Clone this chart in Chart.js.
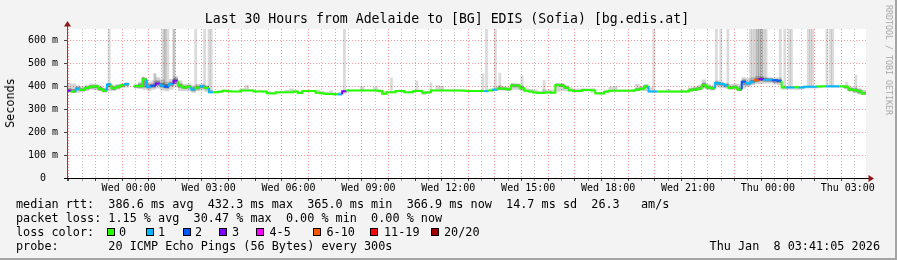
<!DOCTYPE html>
<html>
<head>
<meta charset="utf-8">
<script src="https://cdn.jsdelivr.net/npm/chart.js@4/dist/chart.umd.min.js"></script>
<style>
  html, body { margin: 0; padding: 0; background: #f3f3f3; }
  #frame { position: relative; width: 897px; height: 260px; overflow: hidden; background: #f3f3f3;
           font-family: "DejaVu Sans Mono", monospace; color: #000; }
  #frame canvas { position: absolute; left: 0; top: 0; }
  .txt { position: absolute; white-space: pre; }
  #title { left: 0; width: 894px; top: 11px; font-size: 13.2px; line-height: 16px; text-align: center; }
  #ylabel { left: 10px; top: 103px; font-size: 11.8px; line-height: 14px; transform: translate(-50%, -50%) rotate(-90deg); }
  #credit { left: 889px; top: 60px; font-size: 8.3px; line-height: 10px; color: #a8a8a8; transform: translate(-50%, -50%) rotate(90deg); }
  .row { left: 16px; font-size: 11.8px; line-height: 14px; }
  #stamp { right: 17px; top: 239px; font-size: 11.8px; line-height: 14px; }
  .box { position: absolute; width: 6px; height: 6px; border: 1px solid #000; top: 228px; }
  .edge { position: absolute; background: #a4a4a4; }
</style>
</head>
<body>
<div id="frame">
  <canvas id="chart" width="897" height="260" style="width:897px;height:260px"></canvas>
  <div class="txt" id="title">Last 30 Hours from Adelaide to [BG] EDIS (Sofia) [bg.edis.at]</div>
  <div class="txt" id="ylabel">Seconds</div>
  <div class="txt" id="credit">RRDTOOL / TOBI OETIKER</div>
  <div class="txt row" style="top:197px">median rtt:  386.6 ms avg  432.3 ms max  365.0 ms min  366.9 ms now  14.7 ms sd  26.3   am/s</div>
  <div class="txt row" style="top:211px">packet loss: 1.15 % avg  30.47 % max  0.00 % min  0.00 % now</div>
  <div class="txt row" style="top:225px">loss color:</div>
  <div class="txt row" style="top:239px">probe:       20 ICMP Echo Pings (56 Bytes) every 300s</div>
  <div class="txt" id="stamp">Thu Jan  8 03:41:05 2026</div>
  <div id="lossLegend"></div>
  <div class="edge" style="left:0;top:258px;width:897px;height:2px"></div>
  <div class="edge" style="left:895px;top:0;width:2px;height:260px"></div>
</div>
<script>
// window: Tue 21:41 .. Thu 03:41, one value every 10 minutes
const stepMinutes = 10;
const spanMinutes = 1800;
const firstHourMinute = 19;    // Tue 22:00
const firstLabelMinute = 139;  // Wed 00:00

const xTickLabels = ["Wed 00:00", "Wed 03:00", "Wed 06:00", "Wed 09:00", "Wed 12:00",
                     "Wed 15:00", "Wed 18:00", "Wed 21:00", "Thu 00:00", "Thu 03:00"];
const yTickLabels = ["0  ", "100 m", "200 m", "300 m", "400 m", "500 m", "600 m"];

// median rtt (ms)
const median = [
  381, 377, 390, 384, 393, 398, 400, 388, 381, 408,
  391, 398, 405, 410, null, 401, 400, 430, 398, 402,
  412, 402, 398, 410, 424, 402, 395, 398, 386, 395,
  400, 393, 374, 374, 376, 381, 378, 377, 377, 382,
  382, 382, 377, 377, 377, 370, 369, 374, 374, 374,
  374, 377, 371, 380, 380, 380, 372, 370, 366, 366,
  365, 365, 378, 382, 382, 382, 382, 382, 382, 382,
  380, 367, 374, 374, 379, 379, 374, 374, 380, 380,
  372, 374, 382, 382, 382, 382, 382, 382, 382, 381,
  379, 379, 379, 379, 379, 382, 385, 390, 389, 387,
  404, 404, 392, 381, 377, 373, 371, 372, 374, 372,
  406, 404, 394, 383, 380, 380, 384, 384, 383, 370,
  369, 376, 381, 381, 381, 381, 381, 381, 385, 389,
  400, 377, 377, 377, 377, 377, 377, 377, 377, 377,
  383, 386, 390, 405, 395, 391, 414, 410, 403, 393,
  396, 386, 420, 412, 420, 427, 431, 429, 429, 426,
  424, 395, 395, 395, 396, 395, 398, 398, 398, 399,
  400, 400, 400, 400, 400, 398, 386, 384, 378, 369
];

// lost pings out of 20
const loss = [
  3, 0, 1, 0, 0, 0, 0, 0, 0, 1,
  0, 0, 0, 1, 0, 0, 0, 0, 1, 2,
  3, 1, 2, 1, 3, 0, 0, 0, 1, 0,
  1, 0, 1, 0, 0, 0, 0, 0, 0, 0,
  0, 0, 0, 0, 0, 0, 0, 0, 0, 0,
  0, 0, 0, 0, 0, 0, 0, 0, 0, 0,
  0, 1, 3, 0, 0, 0, 0, 0, 0, 0,
  0, 0, 0, 0, 0, 0, 0, 0, 0, 0,
  0, 0, 0, 0, 0, 0, 0, 0, 0, 0,
  0, 0, 0, 0, 1, 0, 1, 0, 0, 0,
  0, 0, 0, 0, 0, 0, 0, 0, 0, 0,
  0, 0, 0, 0, 0, 0, 0, 0, 0, 0,
  0, 0, 0, 0, 0, 0, 0, 0, 0, 0,
  0, 1, 1, 0, 0, 0, 0, 0, 0, 0,
  0, 0, 0, 0, 0, 0, 1, 1, 1, 0,
  0, 0, 2, 1, 1, 7, 3, 1, 1, 2,
  2, 0, 1, 1, 0, 1, 1, 1, 1, 0,
  0, 1, 1, 1, 0, 0, 0, 0, 0, 0
];

// outer smoke band (ms)
const smokeHi = [
  416, 412, 405, 400, 405, 412, 410, 405, 395, 415,
  405, 410, 412, 418, null, 410, 420, 440, 420, 425,
  440, 430, 420, 432, 445, 425, 410, 412, 405, 410,
  412, 405, 385, 380, 382, 386, 382, 380, 380, 392,
  405, 388, 382, 385, 382, 378, 375, 378, 378, 385,
  390, 385, 380, 384, 384, 384, 385, 380, 375, 382,
  372, 375, 385, 386, 386, 386, 400, 386, 386, 398,
  386, 380, 378, 378, 385, 383, 378, 378, 384, 386,
  380, 380, 386, 405, 400, 386, 386, 386, 386, 386,
  383, 383, 383, 383, 384, 390, 395, 405, 400, 398,
  415, 412, 405, 392, 388, 385, 380, 386, 386, 385,
  412, 414, 405, 395, 390, 390, 392, 390, 392, 375,
  374, 385, 398, 400, 386, 386, 386, 388, 410, 400,
  410, 395, 382, 382, 382, 388, 382, 382, 386, 382,
  395, 400, 405, 430, 410, 405, 425, 420, 415, 410,
  412, 410, 440, 435, 440, 445, 445, 440, 440, 438,
  438, 405, 400, 400, 402, 400, 402, 402, 404, 404,
  404, 404, 404, 404, 404, 405, 398, 395, 392, 385
];
const smokeLo = [
  372, 372, 372, 376, 380, 385, 384, 378, 372, 378,
  380, 385, 392, 395, null, 390, 388, 385, 380, 385,
  390, 382, 378, 385, 395, 380, 380, 378, 372, 378,
  382, 375, 370, 370, 372, 376, 374, 374, 374, 378,
  378, 378, 374, 374, 372, 366, 366, 370, 370, 370,
  370, 372, 368, 376, 376, 376, 368, 366, 362, 362,
  360, 360, 368, 378, 378, 378, 378, 378, 378, 378,
  372, 362, 370, 370, 374, 374, 370, 370, 376, 376,
  362, 366, 378, 378, 378, 378, 378, 378, 378, 378,
  375, 375, 375, 375, 374, 378, 380, 382, 382, 380,
  385, 385, 380, 375, 372, 368, 366, 366, 368, 366,
  376, 380, 378, 376, 374, 374, 378, 378, 372, 364,
  364, 370, 376, 376, 376, 376, 376, 376, 380, 382,
  380, 372, 372, 372, 372, 372, 372, 372, 372, 372,
  376, 380, 382, 390, 385, 382, 395, 392, 390, 384,
  385, 378, 390, 398, 405, 410, 410, 412, 412, 408,
  405, 385, 386, 386, 384, 386, 390, 390, 390, 392,
  394, 394, 394, 394, 394, 388, 376, 372, 365, 362
];

// dense core of the smoke where pings scatter (ms), null where it hides under the median
const coreHi = [
  392, 388, 398, 392, 400, 405, 406, 398, 390, 412,
  400, 405, 410, 414, null, 406, 412, 435, 410, 412,
  425, 415, 410, 420, 435, 412, 402, 405, 396, 402,
  406, 400, null, null, null, null, null, null, null, null,
  null, null, null, null, null, null, null, null, null, null,
  null, null, null, null, null, null, null, null, null, null,
  null, null, null, null, null, null, null, null, null, null,
  null, null, null, null, null, null, null, null, null, null,
  null, null, null, null, null, null, null, null, null, null,
  null, null, null, null, null, null, null, 396, 395, 393,
  410, 410, 398, null, null, null, null, null, null, null,
  412, 410, 400, null, null, null, null, null, null, null,
  null, null, null, null, null, null, null, null, 392, 395,
  405, null, null, null, null, null, null, null, null, null,
  390, 394, 398, 415, 402, 398, 420, 416, 410, 400,
  404, 395, 430, 420, 428, 435, 438, 435, 435, 432,
  430, null, null, null, null, null, null, null, null, null,
  null, null, null, null, null, 402, 394, 390, 386, 376
];
const coreLo = [
  376, 372, 382, 378, 386, 390, 392, 382, 375, 396,
  384, 390, 398, 402, null, 394, 394, 395, 390, 394,
  402, 395, 390, 400, 410, 394, 388, 390, 378, 386,
  392, 386, null, null, null, null, null, null, null, null,
  null, null, null, null, null, null, null, null, null, null,
  null, null, null, null, null, null, null, null, null, null,
  null, null, null, null, null, null, null, null, null, null,
  null, null, null, null, null, null, null, null, null, null,
  null, null, null, null, null, null, null, null, null, null,
  null, null, null, null, null, null, null, 385, 384, 382,
  396, 396, 386, null, null, null, null, null, null, null,
  400, 398, 388, null, null, null, null, null, null, null,
  null, null, null, null, null, null, null, null, 380, 383,
  392, null, null, null, null, null, null, null, null, null,
  378, 380, 384, 395, 388, 385, 405, 402, 396, 388,
  390, 380, 405, 405, 412, 418, 422, 420, 420, 416,
  414, null, null, null, null, null, null, null, null, null,
  null, null, null, null, null, 392, 380, 376, 370, 364
];

// single-ping outliers: minute of window, highest rtt (ms)
const lightSpikeTimes = [95, 216, 227, 290, 310, 320, 325, 625, 945, 965,
                         1322, 1463, 1473, 1489, 1540, 1545, 1550, 1570, 1575, 1607,
                         1617, 1627, 1632, 1670, 1675, 1680, 1712, 1720, 1725,
                         731, 788, 820, 937, 975, 1025, 1075, 1756, 1777];
const lightSpikeTops = [650, 650, 650, 650, 650, 650, 650, 650, 650, 650,
                        650, 650, 650, 650, 650, 650, 650, 650, 650, 650,
                        650, 650, 650, 650, 650, 650, 650, 650, 650,
                        436, 423, 415, 455, 458, 446, 427, 419, 449];
const darkSpikeTimes = [221, 241, 1555, 1560, 1565, 171, 198];
const darkSpikeTops = [650, 650, 650, 650, 650, 440, 455];

const lossLabels = ["0", "1", "2", "3", "4-5", "6-10", "11-19", "20/20"];
const lossUpper = [0, 1, 2, 3, 5, 10, 19, 20];
const lossColors = ["#26ff00", "#00b8ff", "#0059ff", "#7e00ff", "#ff00ff", "#ff5500", "#ff0000", "#a00000"];

function lossColor(n) {
    const k = lossUpper.findIndex(b => n <= b);
    return lossColors[k < 0 ? 7 : k];
}

function steps(values) {
    const pts = [];
    values.forEach((v, i) => {
        pts.push({ x: i * stepMinutes, y: v });
        pts.push({ x: (i + 1) * stepMinutes, y: v });
    });
    return pts;
}

function spikes(times, tops) {
    return times.map((t, k) => {
        const base = median[Math.min(median.length - 1, Math.floor(t / stepMinutes))] ?? 390;
        return { x: t, y: [base, tops[k]] };
    });
}

// legend colour boxes
const boxX = [107, 145.5, 182.5, 219, 256, 313, 370, 431];
const boxLabelX = [119, 158, 195, 232, 269.5, 326.5, 384, 444];
const legendBox = document.getElementById("lossLegend");
lossLabels.forEach((label, i) => {
    const b = document.createElement("div");
    b.className = "box";
    b.style.left = boxX[i] + "px";
    b.style.background = lossColors[i];
    legendBox.appendChild(b);
    const t = document.createElement("div");
    t.className = "txt row";
    t.style.left = boxLabelX[i] + "px";
    t.style.top = "225px";
    t.textContent = label;
    legendBox.appendChild(t);
});

const gridMinutes = [];
for (let m = firstHourMinute; m < spanMinutes; m += 30) gridMinutes.push(m);

const majorGrid = "rgba(255, 0, 0, 0.42)";
const minorGrid = "rgba(0, 0, 0, 0.24)";

const isHour = ctx => ctx.tick && (ctx.tick.value - firstHourMinute) % 60 === 0;
const isHundred = ctx => ctx.tick && ctx.tick.value % 100 === 0;

const plotDecor = {
    id: "plotDecor",
    beforeDraw(chart) {
        const { ctx, chartArea: a } = chart;
        ctx.save();
        ctx.fillStyle = "#ffffff";
        ctx.fillRect(a.left, a.top, a.right - a.left, a.bottom - a.top);
        ctx.restore();
    },
    afterDraw(chart) {
        const { ctx, chartArea: a } = chart;
        ctx.save();
        ctx.lineWidth = 1;
        ctx.strokeStyle = "#555555";
        ctx.beginPath();
        ctx.moveTo(a.left + 0.5, a.bottom + 3);
        ctx.lineTo(a.left + 0.5, a.top - 4);
        ctx.stroke();
        ctx.strokeStyle = "#000000";
        ctx.beginPath();
        ctx.moveTo(a.left - 3, a.bottom + 0.5);
        ctx.lineTo(a.right + 3, a.bottom + 0.5);
        ctx.stroke();
        ctx.fillStyle = "#901818";
        ctx.beginPath();
        ctx.moveTo(a.left + 0.5, a.top - 8);
        ctx.lineTo(a.left - 3, a.top - 2.5);
        ctx.lineTo(a.left + 4, a.top - 2.5);
        ctx.closePath();
        ctx.fill();
        ctx.beginPath();
        ctx.moveTo(a.right + 8, a.bottom + 0.5);
        ctx.lineTo(a.right + 2.5, a.bottom - 3);
        ctx.lineTo(a.right + 2.5, a.bottom + 4);
        ctx.closePath();
        ctx.fill();
        ctx.restore();
    }
};

Chart.defaults.font.family = "'DejaVu Sans Mono', monospace";
Chart.defaults.font.size = 10;
Chart.defaults.color = "#000";

new Chart(document.getElementById("chart"), {
    type: "line",
    data: {
        datasets: [
            {
                label: "median",
                data: steps(median),
                borderColor: lossColors[0],
                borderWidth: 2,
                pointRadius: 0,
                spanGaps: false,
                fill: false,
                segment: {
                    borderColor: ctx => lossColor(loss[Math.floor(ctx.p1DataIndex / 2)])
                },
                order: 0
            },
            {
                type: "bar",
                label: "dark smoke",
                data: spikes(darkSpikeTimes, darkSpikeTops),
                backgroundColor: "rgba(0, 0, 0, 0.24)",
                borderWidth: 0,
                barThickness: 2.2,
                grouped: false,
                order: 1
            },
            {
                type: "bar",
                label: "light smoke",
                data: spikes(lightSpikeTimes, lightSpikeTops),
                backgroundColor: "rgba(0, 0, 0, 0.14)",
                borderWidth: 0,
                barThickness: 2.2,
                grouped: false,
                order: 2
            },
            {
                label: "core hi",
                data: steps(coreHi),
                borderWidth: 0,
                pointRadius: 0,
                spanGaps: false,
                fill: "+1",
                backgroundColor: "rgba(0, 0, 0, 0.32)",
                order: 3
            },
            {
                label: "core lo",
                data: steps(coreLo),
                borderWidth: 0,
                pointRadius: 0,
                spanGaps: false,
                fill: false,
                order: 4
            },
            {
                label: "smoke hi",
                data: steps(smokeHi),
                borderWidth: 0,
                pointRadius: 0,
                fill: "+1",
                backgroundColor: "rgba(0, 0, 0, 0.17)",
                order: 5
            },
            {
                label: "smoke lo",
                data: steps(smokeLo),
                borderWidth: 0,
                pointRadius: 0,
                fill: false,
                order: 6
            }
        ]
    },
    options: {
        responsive: false,
        animation: false,
        devicePixelRatio: 1,
        events: [],
        layout: { padding: { left: 0, top: 29, right: 31, bottom: 60 } },
        plugins: {
            legend: { display: false },
            tooltip: { enabled: false },
            title: { display: false }
        },
        scales: {
            x: {
                type: "linear",
                min: 0,
                max: spanMinutes,
                offset: false,
                afterBuildTicks: scale => {
                    scale.ticks = gridMinutes.map(v => ({ value: v }));
                },
                afterFit: scale => { scale.height = 22; },
                ticks: {
                    autoSkip: false,
                    maxRotation: 0,
                    minRotation: 0,
                    padding: 1,
                    callback: value => {
                        const k = (value - firstLabelMinute) / 180;
                        return Number.isInteger(k) && xTickLabels[k] ? xTickLabels[k] : "";
                    }
                },
                grid: {
                    color: ctx => (isHour(ctx) ? majorGrid : minorGrid),
                    tickLength: 3,
                    tickColor: ctx => (isHour(ctx) ? "#444" : "#999"),
                    lineWidth: 1
                },
                border: { display: false, dash: [1, 2] }
            },
            y: {
                min: 0,
                max: 650,
                afterFit: scale => { scale.width = 67; },
                ticks: {
                    stepSize: 50,
                    padding: 6,
                    callback: value => (value % 100 === 0 ? yTickLabels[value / 100] : "")
                },
                grid: {
                    color: ctx => (isHundred(ctx) ? majorGrid : minorGrid),
                    tickLength: 3,
                    tickColor: ctx => (isHundred(ctx) ? "#444" : "#999"),
                    lineWidth: 1
                },
                border: { display: false, dash: [1, 2] }
            }
        }
    },
    plugins: [plotDecor]
});
</script>
</body>
</html>
